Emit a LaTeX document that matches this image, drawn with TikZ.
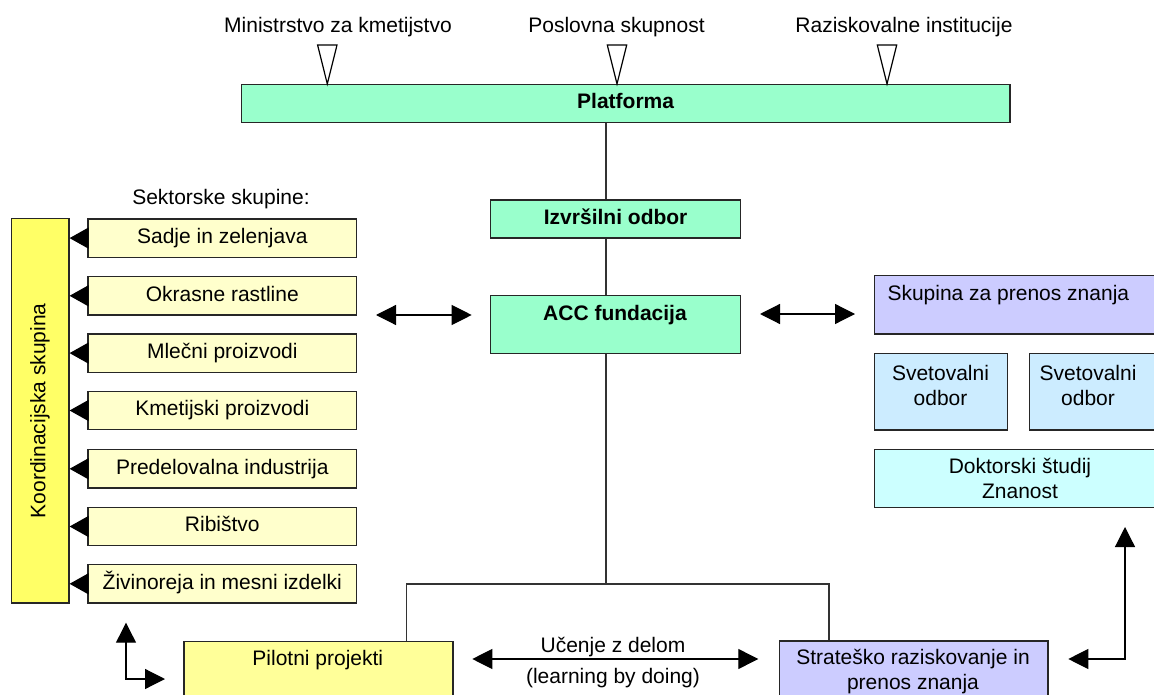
\documentclass[tikz,border=0pt]{standalone}
\usepackage{fontspec}
\setmainfont{Liberation Sans}
\usetikzlibrary{arrows.meta,calc}
\definecolor{mint}{HTML}{99FFCC}
\definecolor{paleyellow}{HTML}{FFFFCC}
\definecolor{coordyellow}{HTML}{FFFF66}
\definecolor{pilotyellow}{HTML}{FFFF99}
\definecolor{lavender}{HTML}{CCCCFF}
\definecolor{skyblue}{HTML}{CCECFF}
\definecolor{paleaqua}{HTML}{CCFFFF}
\newcommand{\basefont}{\fontsize{21pt}{25pt}\selectfont}

\begin{document}
\begin{tikzpicture}[x=1pt,y=-1pt,
  txt/.style={font=\basefont, inner sep=0pt, text height=15pt, text depth=4.5pt},
  ml/.style={font=\basefont, inner sep=0pt, align=center},
  box/.style={draw=black!85, line width=1.3pt, inner sep=0pt, anchor=north west,
              font=\basefont, text height=15pt, text depth=4.5pt},
  boldbox/.style={box, font=\basefont\bfseries},
  wire/.style={draw=black!80, line width=1.1pt},
  biarrow/.style={line width=1.2pt,
     {Triangle[length=20pt,width=20pt]}-{Triangle[length=20pt,width=20pt]}},
  inarrow/.style={line width=1.2pt, -{Triangle[length=19pt,width=21pt]}},
  feed/.style={draw=black, line width=1.2pt, fill=white, line join=miter}
]
\useasboundingbox (0,0) rectangle (1154,695);

% founders feeding the platform
\node[txt] (min) at (338,27) {Ministrstvo za kmetijstvo};
\node[txt] (pos) at (616.5,27) {Poslovna skupnost};
\node[txt] (raz) at (904,27) {Raziskovalne institucije};
\node[boldbox, fill=mint, minimum width=768.6, minimum height=38] (plat) at (240.7,84) {Platforma};
\foreach \x in {327.3,617,887}
  \draw[feed] ({\x-9.7},45) -- ({\x+9.7},45) -- (\x,84) -- cycle;

% central column
\node[boldbox, fill=mint, minimum width=250, minimum height=38] (izv) at (490,199.3) {Izvršilni odbor};
\node[box, fill=mint, minimum width=250, minimum height=57.7] (acc) at (490,295) {};
\node[txt, font=\basefont\bfseries] (acct) at (615,315.5) {ACC fundacija};

% sector groups and coordination group
\node[txt] (sek) at (221,199) {Sektorske skupine:};
\node[box, fill=coordyellow, minimum width=57.6, minimum height=384.3] (koord) at (10.7,218) {};
\node[txt, rotate=90] (koordt) at (koord.center) {Koordinacijska skupina};
\foreach \t/\n/\lbl in {218.3/s1/Sadje in zelenjava, 276/s2/Okrasne rastline,
    333.3/s3/Mlečni proizvodi, 390.7/s4/Kmetijski proizvodi,
    449/s5/Predelovalna industrija, 506.7/s6/Ribištvo, 564/s7/Živinoreja in mesni izdelki}
  \node[box, fill=paleyellow, minimum width=268.7, minimum height=38.3] (\n) at (87.3,\t) {\lbl};
\foreach \i in {1,...,7}
  \draw[inarrow] (s\i.west) -- (s\i.west -| koord.east);

% knowledge transfer side
\node[box, fill=lavender, minimum width=290, minimum height=58.3] (skup) at (874,275) {};
\node[txt, anchor=west] (skupt) at (887.3,295) {Skupina za prenos znanja};
\node[box, fill=skyblue, minimum width=133, minimum height=76.6] (sv1) at (874,352.7) {};
\node[ml] (sv1t) at (940.5,385) {Svetovalni\\odbor};
\node[box, fill=skyblue, minimum width=135, minimum height=76.6] (sv2) at (1029,352.7) {};
\node[ml] (sv2t) at (1088,385) {Svetovalni\\odbor};
\node[box, fill=paleaqua, minimum width=292, minimum height=57.7] (dok) at (874,449) {};
\node[ml] (dokt) at (1020,478) {Doktorski študij\\Znanost};

% bottom row
\node[box, fill=pilotyellow, minimum width=269, minimum height=70] (pil) at (183.3,640.7) {};
\node[txt] (pilt) at (317.8,660) {Pilotni projekti};
\node[box, fill=lavender, minimum width=268.3, minimum height=70] (str) at (779,640.3) {};
\node[ml] (strt) at (913,672) {Strateško raziskovanje in\\prenos znanja};

% hierarchy lines
\coordinate (spine) at (606,0);
\coordinate (fork) at (606,584);
\coordinate (forkl) at (406.7,584);
\coordinate (forkr) at (829,584);
\draw[wire] (plat.south -| spine) -- (izv.north -| spine);
\draw[wire] (izv.south -| spine) -- (acc.north -| spine);
\draw[wire] (acc.south -| spine) -- (fork);
\draw[wire] (pil.north -| forkl) -- (forkl) -- (forkr) -- (str.north -| forkr);

% exchange arrows
\coordinate (la1) at (376,315);
\coordinate (la2) at (471.7,315);
\draw[biarrow] (la1) -- (la2);
\coordinate (ra1) at (760,314);
\coordinate (ra2) at (855,314);
\draw[biarrow] (ra1) -- (ra2);
\coordinate (ul) at (472.3,659);
\coordinate (ur) at (758.3,659);
\draw[biarrow] (ul) -- (ur);
\node[txt] (uc1) at (613,647) {Učenje z delom};
\node[txt] (uc2) at (613,678) {(learning by doing)};
\coordinate (bl1) at (126,622.7);
\coordinate (bl2) at (126,679);
\coordinate (bl3) at (165,679);
\draw[biarrow] (bl1) -- (bl2) -- (bl3);
\coordinate (br1) at (1125,527);
\coordinate (br2) at (1125,659);
\coordinate (br3) at (1068.3,659);
\draw[biarrow] (br1) -- (br2) -- (br3);
\end{tikzpicture}
\end{document}
